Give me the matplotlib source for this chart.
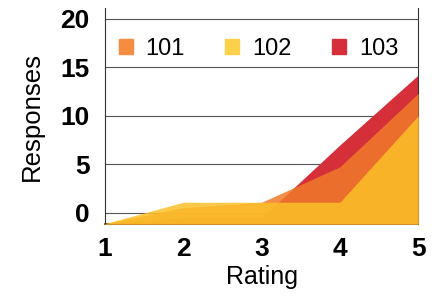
import matplotlib
matplotlib.use("Agg")
from matplotlib import pyplot as plt
from matplotlib.patches import Patch

ratings = [1, 2, 3, 4, 5]
s101 = [-1.1, 0.55, 1.1, 4.75, 12.3]
s102 = [-1.1, 1.1, 1.1, 1.1, 10.0]
s103 = [-1.1, -0.5, -0.5, 7.0, 14.2]
names = ["101", "102", "103"]
colors = ["#F07A2A", "#FCC028", "#D52F3A"]
legend_colors = ["#F58C3F", "#FDD04A", "#D52F3A"]

plt.rcParams['font.family'] = ['Liberation Sans', 'DejaVu Sans']

fig = plt.figure(figsize=(4.32, 2.98), dpi=100)
ax = fig.add_axes([0.243, 0.248, 0.725, 0.725])

base = -1.15
ax.fill_between(ratings, base, s103, color=colors[2], alpha=1.0, lw=0, zorder=2)
ax.fill_between(ratings, base, s101, color=colors[0], alpha=0.85, lw=0, zorder=3)
ax.fill_between(ratings, base, s102, color=colors[1], alpha=0.85, lw=0, zorder=4)

ax.set_xlim(1, 5)
ax.set_ylim(base, 21.1)
ax.set_xticks(ratings)
ax.set_yticks([0, 5, 10, 15, 20])
ax.tick_params(length=0, labelsize=19)
ax.tick_params(axis="x", pad=9)
ax.tick_params(axis="y", pad=11)
for lab in ax.get_xticklabels() + ax.get_yticklabels():
    lab.set_fontweight("bold")
ax.grid(axis="y", color="#555555", lw=0.8, zorder=1)
ax.set_axisbelow(True)
ax.spines["top"].set_visible(False)
ax.spines["left"].set_color("#333333")
ax.spines["right"].set_color("#333333")
ax.spines["bottom"].set_color("#4a3510")
ax.spines["bottom"].set_linewidth(1.2)
ax.set_xlabel("Rating", fontsize=18, labelpad=3)
ax.set_ylabel("Responses", fontsize=18.5, labelpad=12)

handles = [Patch(color=c) for c in legend_colors]
leg = ax.legend(handles, names, loc="upper center", bbox_to_anchor=(0.49, 0.96), ncol=3,
                frameon=False, fontsize=17, handlelength=0.6, handleheight=0.6,
                columnspacing=1.7, handletextpad=0.55)

fig.savefig("out.png", dpi=100)
